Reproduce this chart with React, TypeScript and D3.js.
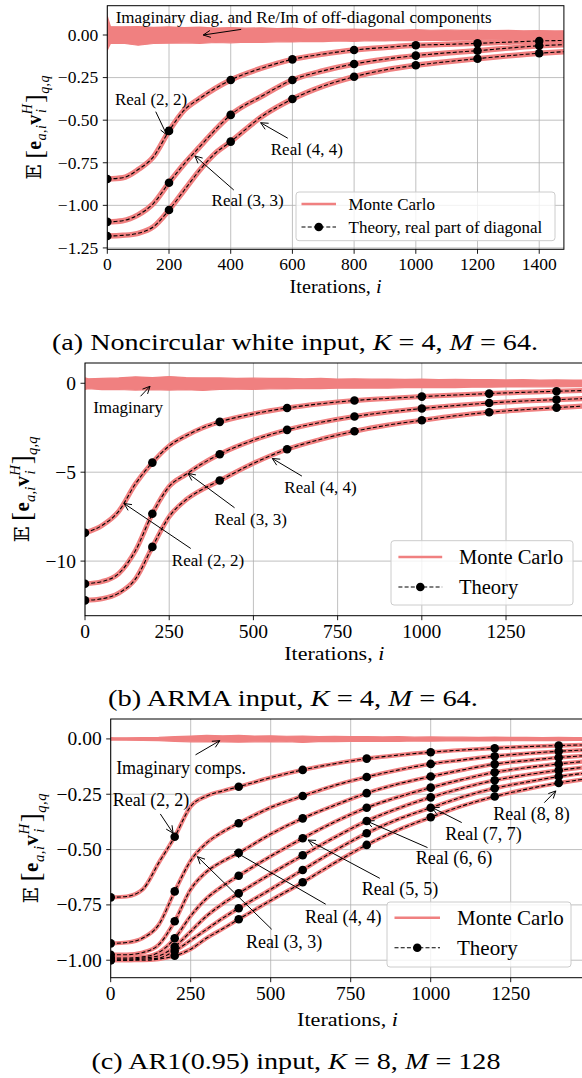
import React from "react";
import * as d3 from "d3";

const SERIF = "'Liberation Serif', 'Times New Roman', serif";
const MC_COLOR = "#f08080";
const GRID = "#b0b0b0";

const iters = [0, 50, 100, 150, 200, 250, 300, 350, 400, 500, 600, 700, 800, 900, 1000, 1100, 1200, 1300, 1400, 1480];
const imagIters = [0, 10, 50, 100, 150, 200, 250, 300, 350, 400, 450, 500, 550, 600, 650, 700, 750, 800, 850, 900, 950, 1000, 1050, 1100, 1150, 1200, 1250, 1300, 1350, 1400, 1450, 1480];

// (a) noncircular white input
const realA22 = [-0.845, -0.838, -0.79, -0.714, -0.563, -0.44, -0.372, -0.313, -0.264, -0.195, -0.143, -0.112, -0.088, -0.073, -0.06, -0.055, -0.049, -0.042, -0.035, -0.032];
const realA33 = [-1.097, -1.09, -1.056, -0.988, -0.867, -0.755, -0.655, -0.557, -0.469, -0.36, -0.264, -0.21, -0.17, -0.142, -0.121, -0.105, -0.092, -0.077, -0.063, -0.057];
const realA44 = [-1.18, -1.176, -1.164, -1.125, -1.027, -0.91, -0.792, -0.694, -0.626, -0.48, -0.376, -0.3, -0.245, -0.205, -0.178, -0.157, -0.139, -0.122, -0.107, -0.098];
const imagUpA = [0.11, 0.05, 0.048, 0.05, 0.045, 0.048, 0.043, 0.046, 0.041, 0.044, 0.04, 0.042, 0.037, 0.04, 0.035, 0.037, 0.033, 0.035, 0.031, 0.033, 0.029, 0.031, 0.028, 0.03, 0.027, 0.028, 0.026, 0.027, 0.025, 0.026, 0.024, 0.025];
const imagLoA = [-0.09, -0.05, -0.048, -0.06, -0.05, -0.048, -0.046, -0.049, -0.044, -0.046, -0.042, -0.044, -0.04, -0.041, -0.037, -0.039, -0.035, -0.037, -0.033, -0.035, -0.031, -0.033, -0.03, -0.031, -0.029, -0.03, -0.028, -0.029, -0.027, -0.028, -0.026, -0.027];
const xTicksA = [0, 200, 400, 600, 800, 1000, 1200, 1400];
const yTicksA = [0, -0.25, -0.5, -0.75, -1, -1.25];

// (b) ARMA input
const realB22 = [-8.41, -8.0, -7.2, -5.65, -4.46, -3.52, -2.95, -2.5, -2.17, -1.72, -1.39, -1.15, -0.97, -0.85, -0.75, -0.66, -0.58, -0.51, -0.45, -0.41];
const realB33 = [-11.27, -11.15, -10.7, -9.4, -7.34, -5.8, -5.12, -4.5, -3.99, -3.2, -2.62, -2.2, -1.87, -1.62, -1.42, -1.25, -1.11, -1.0, -0.92, -0.86];
const realB44 = [-12.21, -12.12, -11.8, -11.0, -9.2, -7.5, -6.55, -5.95, -5.47, -4.5, -3.71, -3.15, -2.7, -2.35, -2.08, -1.83, -1.63, -1.49, -1.37, -1.28];
const imagUpB = [0.3, 0.25, 0.28, 0.3, 0.36, 0.32, 0.38, 0.32, 0.3, 0.3, 0.28, 0.29, 0.27, 0.28, 0.25, 0.27, 0.24, 0.25, 0.23, 0.24, 0.22, 0.23, 0.21, 0.22, 0.2, 0.21, 0.19, 0.2, 0.18, 0.19, 0.18, 0.18];
const imagLoB = [-0.35, -0.3, -0.36, -0.35, -0.38, -0.36, -0.38, -0.36, -0.4, -0.34, -0.33, -0.34, -0.31, -0.32, -0.29, -0.3, -0.28, -0.28, -0.26, -0.27, -0.25, -0.25, -0.23, -0.24, -0.22, -0.22, -0.21, -0.21, -0.2, -0.2, -0.19, -0.19];
const xTicksB = [0, 250, 500, 750, 1000, 1250];
const yTicksB = [0, -5, -10];

// (c) AR1(0.95) input
const realC22 = [-0.716, -0.712, -0.68, -0.56, -0.442, -0.305, -0.258, -0.235, -0.216, -0.175, -0.14, -0.112, -0.089, -0.073, -0.06, -0.05, -0.042, -0.035, -0.03, -0.027];
const realC33 = [-0.924, -0.92, -0.9, -0.84, -0.689, -0.55, -0.47, -0.42, -0.381, -0.31, -0.258, -0.21, -0.172, -0.14, -0.113, -0.095, -0.078, -0.066, -0.056, -0.05];
const realC44 = [-0.975, -0.975, -0.965, -0.93, -0.824, -0.68, -0.6, -0.553, -0.515, -0.43, -0.359, -0.3, -0.245, -0.203, -0.17, -0.14, -0.114, -0.098, -0.084, -0.076];
const realC55 = [-0.99, -0.99, -0.985, -0.965, -0.901, -0.8, -0.72, -0.665, -0.618, -0.53, -0.449, -0.375, -0.311, -0.262, -0.22, -0.183, -0.151, -0.13, -0.113, -0.102];
const realC66 = [-0.995, -0.995, -0.99, -0.98, -0.939, -0.87, -0.8, -0.745, -0.698, -0.61, -0.526, -0.445, -0.371, -0.313, -0.264, -0.222, -0.187, -0.162, -0.142, -0.128];
const realC77 = [-1.0, -1.0, -0.995, -0.99, -0.958, -0.91, -0.86, -0.81, -0.765, -0.68, -0.592, -0.505, -0.426, -0.362, -0.311, -0.262, -0.223, -0.195, -0.17, -0.155];
const realC88 = [-1.0, -1.0, -1.0, -0.995, -0.98, -0.95, -0.9, -0.858, -0.815, -0.73, -0.648, -0.56, -0.479, -0.41, -0.354, -0.302, -0.26, -0.227, -0.199, -0.182];
const imagUpC = [0.006, 0.005, 0.005, 0.006, 0.007, 0.01, 0.013, 0.016, 0.014, 0.016, 0.013, 0.014, 0.012, 0.013, 0.011, 0.012, 0.01, 0.011, 0.009, 0.01, 0.008, 0.009, 0.008, 0.008, 0.007, 0.008, 0.007, 0.007, 0.006, 0.007, 0.006, 0.006];
const imagLoC = [-0.006, -0.005, -0.006, -0.007, -0.008, -0.011, -0.013, -0.014, -0.013, -0.015, -0.013, -0.014, -0.012, -0.016, -0.012, -0.012, -0.011, -0.011, -0.01, -0.011, -0.009, -0.01, -0.009, -0.009, -0.008, -0.009, -0.008, -0.008, -0.007, -0.008, -0.007, -0.007];
const xTicksC = [0, 250, 500, 750, 1000, 1250];
const yTicksC = [0, -0.25, -0.5, -0.75, -1];

type Ann = { text: string; tx: number; ty: number; anchor: string; ax: number; ay: number; px: number; py: number };

const annA: Ann[] = [
  { text: "Imaginary diag. and Re/Im of off-diagonal components", tx: 27, ty: 0.106, anchor: "start", ax: 434, ay: 0.033, px: 311, py: 0 },
  { text: "Real (2, 2)", tx: 142, ty: -0.376, anchor: "middle", ax: 157, ay: -0.45, px: 193, py: -0.587 },
  { text: "Real (4, 4)", tx: 647, ty: -0.669, anchor: "middle", ax: 585, ay: -0.606, px: 497, py: -0.515 },
  { text: "Real (3, 3)", tx: 455, ty: -0.968, anchor: "middle", ax: 410, ay: -0.91, px: 284, py: -0.71 },
];
const annB: Ann[] = [
  { text: "Imaginary", tx: 128, ty: -1.33, anchor: "middle", ax: 165, ay: -0.73, px: 193, py: -0.17 },
  { text: "Real (4, 4)", tx: 699, ty: -5.83, anchor: "middle", ax: 644, ay: -5.22, px: 556, py: -4.23 },
  { text: "Real (3, 3)", tx: 492, ty: -7.64, anchor: "middle", ax: 444, ay: -7.0, px: 306, py: -5.07 },
  { text: "Real (2, 2)", tx: 365, ty: -9.94, anchor: "middle", ax: 314, ay: -9.29, px: 116, py: -6.76 },
];
const annC: Ann[] = [
  { text: "Imaginary comps.", tx: 17, ty: -0.13, anchor: "start", ax: 265, ay: -0.072, px: 341, py: -0.008 },
  { text: "Real (2, 2)", tx: 126, ty: -0.276, anchor: "middle", ax: 155, ay: -0.339, px: 195, py: -0.426 },
  { text: "Real (3, 3)", tx: 542, ty: -0.916, anchor: "middle", ax: 503, ay: -0.86, px: 271, py: -0.532 },
  { text: "Real (4, 4)", tx: 727, ty: -0.803, anchor: "middle", ax: 672, ay: -0.747, px: 387, py: -0.509 },
  { text: "Real (5, 5)", tx: 904, ty: -0.679, anchor: "middle", ax: 841, ay: -0.63, px: 617, py: -0.457 },
  { text: "Real (6, 6)", tx: 1073, ty: -0.539, anchor: "middle", ax: 990, ay: -0.491, px: 800, py: -0.371 },
  { text: "Real (7, 7)", tx: 1165, ty: -0.429, anchor: "middle", ax: 1097, ay: -0.378, px: 1003, py: -0.309 },
  { text: "Real (8, 8)", tx: 1315, ty: -0.339, anchor: "middle", ax: 1355, ay: -0.288, px: 1391, py: -0.235 },
];

const panels = [
  {
    id: "a", left: 107.3, right: 563.9, top: 5.7, bottom: 249.3, xMax: 1480, yMin: -1.258, yMax: 0.172,
    xTicks: xTicksA, yTicks: yTicksA, fmt: d3.format(".2f"), tickFs: 17.5, labelFs: 18.5, annFs: 17,
    series: [realA22, realA33, realA44], imagUp: imagUpA, imagLo: imagLoA, mcWidth: 5.5,
    ann: annA, ylabel: { x: 36, fs: 20, len: 104 }, xlabel: { y: 293, len: 92 },
    legend: { w: 259, h: 48.7, fs: 17, pr: 8.9, pb: 8.6, hx: 5.5, hl: 34.5, tx: 52.5, r1: 12, r2: 35, theory: "Theory, real part of diagonal" },
    caption: { y: 350, cx: 295, len: 486, lead: "(a) Noncircular white input, ", k: "4", m: "64." },
  },
  {
    id: "b", left: 85, right: 583.5, top: 363, bottom: 615.7, xMax: 1480, yMin: -13.07, yMax: 1.14,
    xTicks: xTicksB, yTicks: yTicksB, fmt: d3.format("d"), tickFs: 19.5, labelFs: 19.5, annFs: 17,
    series: [realB22, realB33, realB44], imagUp: imagUpB, imagLo: imagLoB, mcWidth: 5,
    ann: annB, ylabel: { x: 24, fs: 21, len: 106 }, xlabel: { y: 659.5, len: 100 },
    legend: { w: 182, h: 64.3, fs: 20.5, pr: 10.5, pb: 10.7, hx: 7.4, hl: 43.8, tx: 68, r1: 16.3, r2: 46.3, theory: "Theory" },
    caption: { y: 706, cx: 293, len: 370, lead: "(b) ARMA input, ", k: "4", m: "64." },
  },
  {
    id: "c", left: 110.7, right: 584.3, top: 719, bottom: 977.7, xMax: 1480, yMin: -1.079, yMax: 0.09,
    xTicks: xTicksC, yTicks: yTicksC, fmt: d3.format(".2f"), tickFs: 19.5, labelFs: 19.5, annFs: 18,
    series: [realC22, realC33, realC44, realC55, realC66, realC77, realC88], imagUp: imagUpC, imagLo: imagLoC, mcWidth: 4.2,
    ann: annC, ylabel: { x: 33, fs: 21, len: 110 }, xlabel: { y: 1025.5, len: 101 },
    legend: { w: 184, h: 65, fs: 21, pr: 13.3, pb: 10.7, hx: 7.5, hl: 45.5, tx: 70, r1: 15.7, r2: 45.7, theory: "Theory" },
    caption: { y: 1069, cx: 296, len: 409, lead: "(c) AR1(0.95) input, ", k: "8", m: "128" },
  },
];

function Arrow({ x1, y1, x2, y2 }: { x1: number; y1: number; x2: number; y2: number }) {
  const ang = Math.atan2(y2 - y1, x2 - x1);
  const L = 8, w = 0.45;
  const p1 = [x2 - L * Math.cos(ang - w), y2 - L * Math.sin(ang - w)];
  const p2 = [x2 - L * Math.cos(ang + w), y2 - L * Math.sin(ang + w)];
  return (
    <g stroke="#000" strokeWidth={1} fill="none">
      <line x1={x1} y1={y1} x2={x2} y2={y2} />
      <path d={`M${p1[0]},${p1[1]}L${x2},${y2}L${p2[0]},${p2[1]}`} />
    </g>
  );
}

function YLabel({ cx, cy, fs, len }: { cx: number; cy: number; fs: number; len: number }) {
  const s = fs * 0.7;
  return (
    <text transform={`translate(${cx + fs * 0.25},${cy}) rotate(-90)`} textAnchor="middle" fontSize={fs} fontFamily={SERIF}
      textLength={len} lengthAdjust="spacing">
      <tspan fontFamily="'DejaVu Serif', 'DejaVu Sans'">𝔼</tspan>
      <tspan dx={fs * 0.25} fontSize={fs * 1.3} dy={fs * 0.08}>[</tspan>
      <tspan fontWeight="bold" dy={-fs * 0.08}>e</tspan>
      <tspan fontSize={s} fontStyle="italic" dy={fs * 0.25}>a,i</tspan>
      <tspan fontWeight="bold" dy={-fs * 0.25}>v</tspan>
      <tspan fontSize={s} fontStyle="italic" dy={-fs * 0.45}>H</tspan>
      <tspan fontSize={s} fontStyle="italic" dx={-s * 0.65} dy={fs * 0.7}>i</tspan>
      <tspan fontSize={fs * 1.3} dx={s * 0.4} dy={-fs * 0.17}>]</tspan>
      <tspan fontSize={s} fontStyle="italic" dy={fs * 0.3}>q,q</tspan>
    </text>
  );
}

function Panel({ p }: { p: any }) {
  const x = d3.scaleLinear().domain([0, p.xMax]).range([p.left, p.right]);
  const y = d3.scaleLinear().domain([p.yMin, p.yMax]).range([p.bottom, p.top]);
  const line = d3.line<number>().x((_, i) => x(iters[i])).y((d) => y(d)).curve(d3.curveMonotoneX);
  const area = d3.area<number>().x((_, i) => x(imagIters[i])).y0((_, i) => y(p.imagLo[i])).y1((d) => y(d));
  const clip = `clip-${p.id}`;
  const tick = 4.5;
  const lg = p.legend;
  const lx = p.right - lg.pr - lg.w;
  const ly = p.bottom - lg.pb - lg.h;
  return (
    <g>
      <defs>
        <clipPath id={clip}>
          <rect x={p.left} y={p.top} width={p.right - p.left} height={p.bottom - p.top} />
        </clipPath>
      </defs>
      {/* grid */}
      <g stroke={GRID} strokeWidth={0.8}>
        {p.xTicks.map((t: number) => (
          <line key={`gx${t}`} x1={x(t)} x2={x(t)} y1={p.top} y2={p.bottom} />
        ))}
        {p.yTicks.map((t: number) => (
          <line key={`gy${t}`} x1={p.left} x2={p.right} y1={y(t)} y2={y(t)} />
        ))}
      </g>
      <g clipPath={`url(#${clip})`}>
        {/* Monte Carlo */}
        <path d={area(p.imagUp) || ""} fill={MC_COLOR} stroke={MC_COLOR} strokeWidth={1.2} />
        {p.series.map((s: number[], k: number) => (
          <path key={`mc${k}`} d={line(s) || ""} fill="none" stroke={MC_COLOR} strokeWidth={p.mcWidth} strokeLinejoin="round" />
        ))}
        {/* Theory */}
        {p.series.map((s: number[], k: number) => (
          <path key={`th${k}`} d={line(s) || ""} fill="none" stroke="#000" strokeWidth={1.1} strokeDasharray="4,2.2" />
        ))}
        {p.series.map((s: number[], k: number) =>
          s.map((v, i) =>
            iters[i] % 200 === 0 ? <circle key={`m${k}-${i}`} cx={x(iters[i])} cy={y(v)} r={4.3} fill="#000" /> : null
          )
        )}
      </g>
      {/* annotations */}
      {p.ann.map((a: Ann, k: number) => (
        <g key={`an${k}`}>
          <text x={x(a.tx)} y={y(a.ty) + p.annFs * 0.33} textAnchor={a.anchor} fontSize={p.annFs} fontFamily={SERIF}>
            {a.text}
          </text>
          <Arrow x1={x(a.ax)} y1={y(a.ay)} x2={x(a.px)} y2={y(a.py)} />
        </g>
      ))}
      {/* legend */}
      <g>
        <rect x={lx} y={ly} width={lg.w} height={lg.h} rx={3} fill="#fff" fillOpacity={0.8} stroke="#cccccc" strokeWidth={1} />
        <line x1={lx + lg.hx} x2={lx + lg.hx + lg.hl} y1={ly + lg.r1} y2={ly + lg.r1} stroke={MC_COLOR} strokeWidth={2.6} />
        <text x={lx + lg.tx} y={ly + lg.r1 + lg.fs * 0.33} fontSize={lg.fs} fontFamily={SERIF}>Monte Carlo</text>
        <line x1={lx + lg.hx} x2={lx + lg.hx + lg.hl} y1={ly + lg.r2} y2={ly + lg.r2} stroke="#000" strokeWidth={1.1} strokeDasharray="4,2.2" />
        <circle cx={lx + lg.hx + lg.hl / 2} cy={ly + lg.r2} r={4.3} fill="#000" />
        <text x={lx + lg.tx} y={ly + lg.r2 + lg.fs * 0.33} fontSize={lg.fs} fontFamily={SERIF}>{lg.theory}</text>
      </g>
      {/* spines */}
      <rect x={p.left} y={p.top} width={p.right - p.left} height={p.bottom - p.top} fill="none" stroke="#000" strokeWidth={1} />
      {/* ticks */}
      <g stroke="#000" strokeWidth={0.9}>
        {p.xTicks.map((t: number) => (
          <line key={`tx${t}`} x1={x(t)} x2={x(t)} y1={p.bottom} y2={p.bottom + tick} />
        ))}
        {p.yTicks.map((t: number) => (
          <line key={`ty${t}`} x1={p.left - tick} x2={p.left} y1={y(t)} y2={y(t)} />
        ))}
      </g>
      <g fontSize={p.tickFs} fontFamily={SERIF}>
        {p.xTicks.map((t: number) => (
          <text key={`lx${t}`} x={x(t)} y={p.bottom + tick + 4.5 + p.tickFs * 0.66} textAnchor="middle">
            {String(t)}
          </text>
        ))}
        {p.yTicks.map((t: number) => (
          <text key={`ly${t}`} x={p.left - tick - 4.5} y={y(t) + p.tickFs * 0.33} textAnchor="end">
            {p.fmt(t)}
          </text>
        ))}
      </g>
      {/* axis labels */}
      <text x={(p.left + p.right) / 2} y={p.xlabel.y} textAnchor="middle" fontSize={p.labelFs} fontFamily={SERIF}
        textLength={p.xlabel.len} lengthAdjust="spacingAndGlyphs">
        Iterations, <tspan fontStyle="italic">i</tspan>
      </text>
      <YLabel cx={p.ylabel.x} cy={(p.top + p.bottom) / 2} fs={p.ylabel.fs} len={p.ylabel.len} />
      {/* caption */}
      <text x={p.caption.cx} y={p.caption.y} textAnchor="middle" fontSize={22.5} fontFamily={SERIF}
        textLength={p.caption.len} lengthAdjust="spacingAndGlyphs">
        {p.caption.lead}
        <tspan fontStyle="italic">K</tspan>
        {` = ${p.caption.k}, `}
        <tspan fontStyle="italic">M</tspan>
        {` = ${p.caption.m}`}
      </text>
    </g>
  );
}

export default function App() {
  return (
    <svg width={582} height={1078} style={{ position: "absolute", left: 0, top: 0, background: "#fff" }}>
      <rect x={0} y={0} width={582} height={1078} fill="#fff" />
      {panels.map((p) => (
        <Panel key={p.id} p={p} />
      ))}
    </svg>
  );
}
